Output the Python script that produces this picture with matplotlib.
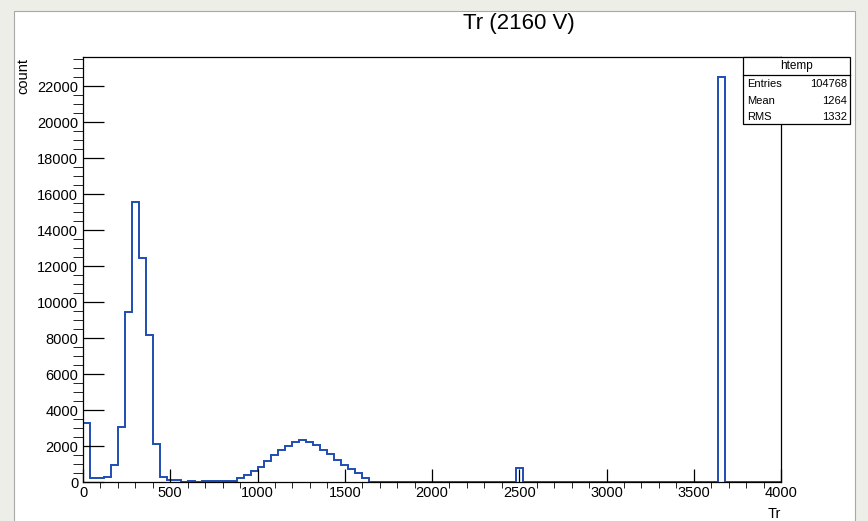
import numpy as np
import matplotlib
matplotlib.use("Agg")
import matplotlib.pyplot as plt
from matplotlib.patches import Rectangle

# histogram "htemp": 100 bins of width 40 over 0..4000
x_min, x_max, n_bins = 0, 4000, 100
counts = [
    3270, 195, 195, 285, 940, 3080, 9470, 15590, 12430, 8180,      # 0-400
    2110, 260, 130, 130, 0, 40, 0, 60, 60, 60,                     # 400-800
    60, 60, 200, 390, 615, 855, 1170, 1510, 1790, 2010,            # 800-1200
    2200, 2345, 2250, 2065, 1790, 1545, 1230, 950, 725, 520,       # 1200-1600
    200, 0, 0, 0, 0, 0, 0, 0, 0, 0,                                # 1600-2000
    0, 0, 0, 0, 0, 0, 0, 0, 0, 0,                                  # 2000-2400
    0, 0, 770, 0, 0, 0, 0, 0, 0, 0,                                # 2400-2800
    0, 0, 0, 0, 0, 0, 0, 0, 0, 0,                                  # 2800-3200
    0, 0, 0, 0, 0, 0, 0, 0, 0, 0,                                  # 3200-3600
    0, 22500, 0, 0, 0, 0, 0, 0, 0, 0,                              # 3600-4000
]
stat_labels = ["Entries", "Mean", "RMS"]
stat_values = ["104768", "1264", "1332"]
hist_name = "htemp"
title = "Tr (2160 V)"

plt.rcParams['font.family'] = ['Liberation Sans', 'DejaVu Sans']

W, H = 868, 521
fig = plt.figure(figsize=(W / 100, H / 100), dpi=100, facecolor="#eeeee8")

def fx(px):
    return px / W

def fy(py):
    return 1 - py / H

# white canvas pad (behind the axes)
fig.patches.append(Rectangle((fx(14), fy(530)), fx(855) - fx(14), fy(11) - fy(530),
                             transform=fig.transFigure, facecolor="white",
                             edgecolor="#a8a8a8", lw=0.8, zorder=-10))

ax = fig.add_axes([fx(83), fy(482), fx(781) - fx(83), fy(57) - fy(482)])
ax.set_facecolor("white")
edges = np.linspace(x_min, x_max, n_bins + 1)
ax.stairs(counts, edges, baseline=0, color="#1f4db3", lw=1.4)

ax.set_xlim(x_min, x_max)
ax.set_ylim(0, max(counts) * 1.05)

ax.set_xticks(np.arange(0, 4001, 500))
ax.set_xticks(np.arange(0, 4001, 100), minor=True)
ax.set_yticks(np.arange(0, 22001, 2000))
ax.set_yticks(np.arange(0, 23600, 500), minor=True)
ax.tick_params(direction="in", top=False, right=False, labelsize=10.5,
               width=0.9, color="black")
ax.tick_params(axis="x", which="major", length=9.2, pad=3)
ax.tick_params(axis="x", which="minor", length=4.6)
ax.tick_params(axis="y", which="major", length=15, pad=3.5)
ax.tick_params(axis="y", which="minor", length=7.5)
for s in ax.spines.values():
    s.set_linewidth(0.9)

fig.text(fx(519), fy(24), title, ha="center", va="center", fontsize=16)
fig.text(fx(781), fy(514), "Tr", ha="right", va="center", fontsize=10.5)
fig.text(fx(23), fy(58), "count", ha="center", va="top", rotation=90, fontsize=10.5)

# stats box
bx0, bx1, by0, by1 = 743, 850, 57, 124
fig.patches.append(Rectangle((fx(bx0), fy(by1)), fx(bx1) - fx(bx0), fy(by0) - fy(by1),
                             transform=fig.transFigure, facecolor="white",
                             edgecolor="black", lw=0.9, zorder=5))
fig.add_artist(plt.Line2D([fx(bx0), fx(bx1)], [fy(75), fy(75)], color="black", lw=0.9, zorder=6))
fig.text(fx((bx0 + bx1) / 2), fy(66), hist_name, ha="center", va="center", fontsize=8.5, zorder=7)
for i, (lab, val) in enumerate(zip(stat_labels, stat_values)):
    y = fy(84 + 16.5 * i)
    fig.text(fx(747), y, lab, ha="left", va="center", fontsize=8, zorder=7)
    fig.text(fx(847), y, val, ha="right", va="center", fontsize=8, zorder=7)

fig.savefig("out.png", dpi=100, facecolor=fig.get_facecolor())
